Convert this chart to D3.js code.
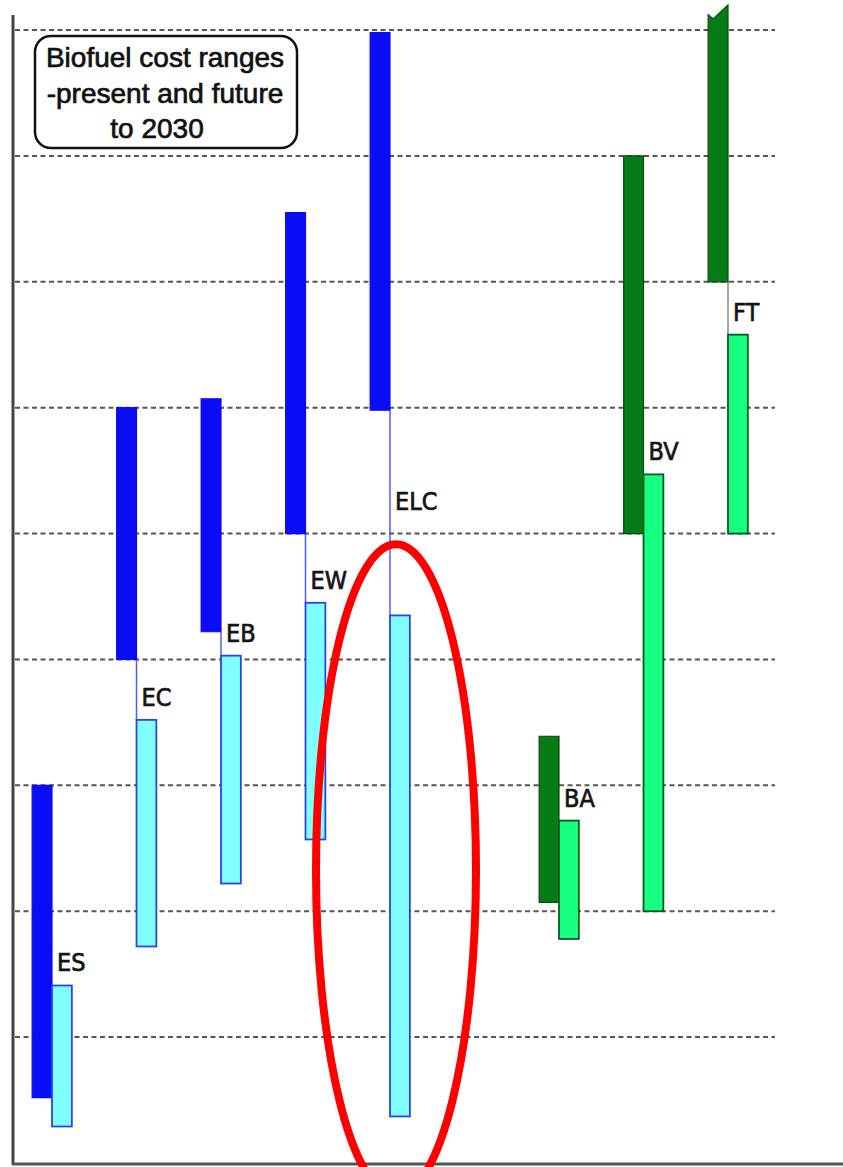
<!DOCTYPE html>
<html>
<head>
<meta charset="utf-8">
<script src="https://cdn.jsdelivr.net/npm/d3@7"></script>
<style>
  body { margin: 0; background: #fff; }
  svg { display: block; }
</style>
</head>
<body>
<div id="chart"></div>
<script>
// biofuel cost ranges, present (dark) and future to 2030 (light)
const categories = ["ES", "EC", "EB", "EW", "ELC", "BA", "BV", "FT"];
const families = ["E", "E", "E", "E", "E", "B", "B", "B"]; // ethanol / biodiesel-type
const presentLow = [0.52, 4.0, 4.22, 5.0, 5.98, 2.07, 5.0, 7.0];
const presentHigh = [3.0, 6.0, 6.07, 7.55, 8.98, 3.39, 8.0, 9.2];
const futureLow = [0.29, 1.72, 2.22, 2.57, 0.37, 1.78, 2.0, 5.0];
const futureHigh = [1.41, 3.52, 4.03, 4.45, 4.35, 2.72, 5.47, 6.58];
const gridValues = [1, 2, 3, 4, 5, 6, 7, 8, 9];
const titleLines = ["Biofuel cost ranges", "-present and future", "to 2030"];
const highlight = "ELC";

const width = 843, height = 1167;
const margin = {top: 30, right: 68, bottom: 4, left: 13};

const colors = {
  E: {present: "#0a0cf6", presentStroke: "#0a0cf6", future: "#80ffff", futureStroke: "#2a44e8", link: "#4b5cff"},
  B: {present: "#067c16", presentStroke: "#0b4a12", future: "#17ff80", futureStroke: "#0a5a1e", link: "#8a8a8a"}
};

const data = categories.map(function(c, i) {
  return {name: c, family: families[i], pLo: presentLow[i], pHi: presentHigh[i], fLo: futureLow[i], fHi: futureHigh[i]};
});

// slot index, with one empty slot between the two fuel families
let slot = -1;
data.forEach(function(d, i) {
  slot += (i > 0 && d.family !== data[i - 1].family) ? 2 : 1;
  d.slot = slot;
});

const svg = d3.select("#chart").append("svg")
    .attr("width", width)
    .attr("height", height);

const x = d3.scaleLinear()
    .domain([0, d3.max(data, d => d.slot)])
    .range([52, 728]);

const y = d3.scaleLinear()
    .domain([0, 9])
    .range([height - margin.bottom, margin.top]);

const barW = (x(1) - x(0)) * 0.235;

// dashed gridlines
svg.append("g").selectAll("line").data(gridValues).enter().append("line")
    .attr("x1", margin.left + 2)
    .attr("x2", 775)
    .attr("y1", d => y(d))
    .attr("y2", d => y(d))
    .attr("stroke", "#555")
    .attr("stroke-width", 2)
    .attr("stroke-dasharray", "5,3.5");

// axes lines
svg.append("line")
    .attr("x1", margin.left).attr("x2", margin.left)
    .attr("y1", 15).attr("y2", height - 2)
    .attr("stroke", "#444").attr("stroke-width", 3);
svg.append("line")
    .attr("x1", margin.left - 1).attr("x2", width)
    .attr("y1", height - 3).attr("y2", height - 3)
    .attr("stroke", "#555").attr("stroke-width", 3);

// title box
const box = svg.append("g").attr("transform", "translate(35,36)");
box.append("rect")
    .attr("width", 262).attr("height", 112)
    .attr("rx", 16).attr("ry", 16)
    .attr("fill", "#fff")
    .attr("stroke", "#111")
    .attr("stroke-width", 2.5);
box.selectAll("text").data(titleLines).enter().append("text")
    .attr("x", (d, i) => i === 2 ? 122 : 130)
    .attr("y", (d, i) => 31 + i * 35.5)
    .attr("text-anchor", "middle")
    .attr("font-family", "Liberation Sans, Arial, sans-serif")
    .attr("font-size", 28)
    .attr("fill", "#111")
    .attr("stroke", "#111")
    .attr("stroke-width", 0.7)
    .text(d => d);

const bars = svg.append("g").selectAll("g").data(data).enter().append("g");

// thin link from present range down to future range
bars.filter(d => d.pLo > d.fHi).append("line")
    .attr("x1", d => x(d.slot)).attr("x2", d => x(d.slot))
    .attr("y1", d => y(d.pLo)).attr("y2", d => y(d.fHi))
    .attr("stroke", d => colors[d.family].link)
    .attr("stroke-width", 1.5);

// present cost range (dark); a notched top when it runs off the scale
bars.append("path")
    .attr("d", function(d) {
      const x0 = x(d.slot) - barW, x1 = x(d.slot), yb = y(d.pLo), yt = y(d.pHi);
      if (d.pHi <= 9) {
        return "M" + x0 + "," + yt + "H" + x1 + "V" + yb + "H" + x0 + "Z";
      }
      return "M" + x0 + "," + (yt + 10) + "L" + (x0 + barW * 0.25) + "," + (yt + 14) +
        "L" + x1 + "," + yt + "V" + yb + "H" + x0 + "Z";
    })
    .attr("fill", d => colors[d.family].present)
    .attr("stroke", d => colors[d.family].presentStroke)
    .attr("stroke-width", 1.2);

// future cost range (light)
bars.append("rect")
    .attr("x", d => x(d.slot))
    .attr("y", d => y(d.fHi))
    .attr("width", barW)
    .attr("height", d => y(d.fLo) - y(d.fHi))
    .attr("fill", d => colors[d.family].future)
    .attr("stroke", d => colors[d.family].futureStroke)
    .attr("stroke-width", 1.8);

// category labels
bars.append("text")
    .attr("x", d => x(d.slot) + 5)
    .attr("y", d => Math.min(y(d.fHi) - 14, y(d.pLo) + 100))
    .attr("font-family", "Liberation Sans Narrow, DejaVu Sans Condensed, sans-serif")
    .attr("font-size", 25)
    .attr("fill", "#151515")
    .attr("stroke", "#151515")
    .attr("stroke-width", 0.7)
    .text(d => d.name);

// red ellipse around the highlighted future range
const hl = data.find(d => d.name === highlight);
svg.append("ellipse")
    .attr("cx", x(hl.slot) + 6)
    .attr("cy", (y(hl.fLo) + y(hl.fHi)) / 2 + 4)
    .attr("rx", 80)
    .attr("ry", (y(hl.fLo) - y(hl.fHi)) / 2 * 1.3)
    .attr("fill", "none")
    .attr("stroke", "#ff0000")
    .attr("stroke-width", 8);
</script>
</body>
</html>
